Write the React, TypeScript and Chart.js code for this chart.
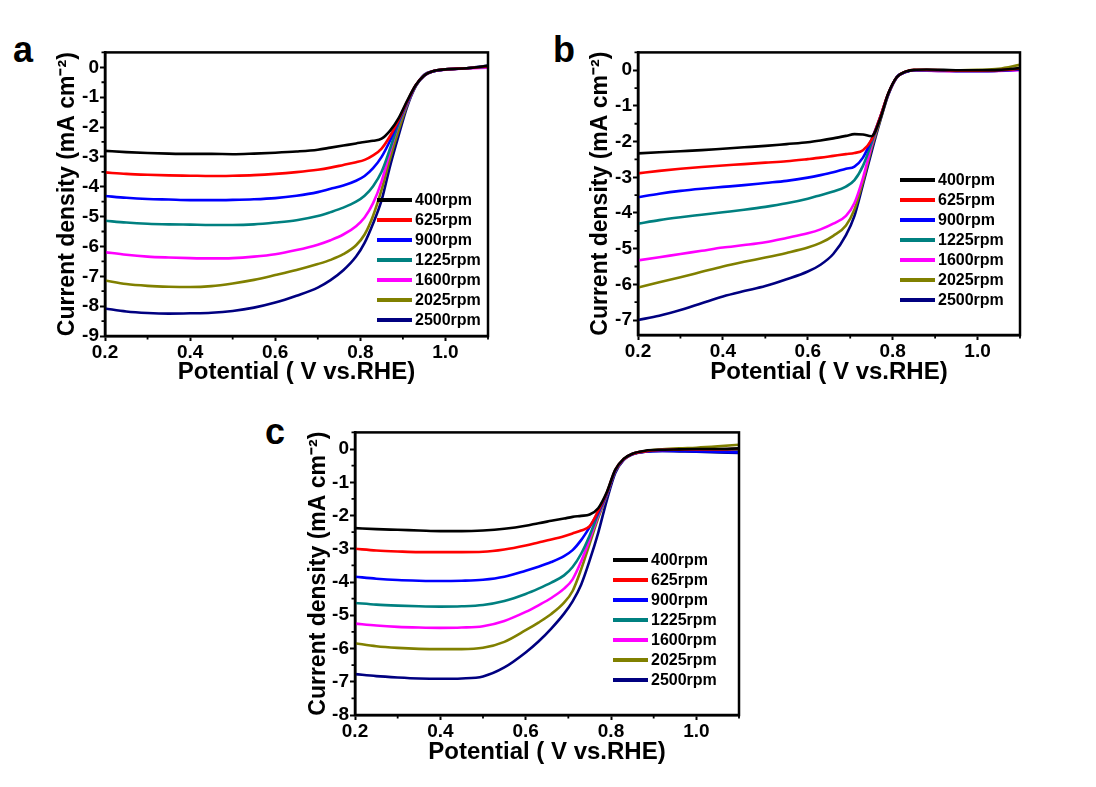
import React, { useEffect, useRef } from 'react';
import { Chart, registerables } from 'chart.js';

Chart.register(...registerables);

const FONT = '"Liberation Sans", Arial, Helvetica, sans-serif';
Chart.defaults.font.family = FONT;

// ---------- series meta ----------
const seriesLabels = ['400rpm', '625rpm', '900rpm', '1225rpm', '1600rpm', '2025rpm', '2500rpm'];
const seriesColors = ['#000000', '#ff0000', '#0000ff', '#008080', '#ff00ff', '#808000', '#000080'];

const xTitle = 'Potential ( V vs.RHE)';
const yTitle = 'Current density (mA cm\u207B\u00B2)';

// ---------- panel a ----------
const potentialA = [0.2, 0.25, 0.3, 0.35, 0.4, 0.45, 0.5, 0.55, 0.6, 0.65, 0.7, 0.73, 0.76, 0.79, 0.81, 0.83, 0.85, 0.87, 0.89, 0.91, 0.93, 0.95, 0.97, 1.0, 1.05, 1.1];
const a400 = [-2.80, -2.84, -2.87, -2.89, -2.90, -2.90, -2.91, -2.89, -2.86, -2.82, -2.76, -2.69, -2.62, -2.55, -2.50, -2.46, -2.39, -2.12, -1.70, -1.12, -0.60, -0.27, -0.13, -0.07, -0.03, 0.05];
const a625 = [-3.52, -3.57, -3.60, -3.62, -3.63, -3.64, -3.63, -3.61, -3.57, -3.51, -3.43, -3.36, -3.27, -3.18, -3.10, -2.95, -2.72, -2.30, -1.76, -1.15, -0.60, -0.27, -0.13, -0.07, -0.03, 0.03];
const a900 = [-4.31, -4.37, -4.41, -4.43, -4.45, -4.45, -4.44, -4.42, -4.38, -4.30, -4.18, -4.07, -3.96, -3.80, -3.64, -3.38, -3.00, -2.45, -1.80, -1.18, -0.61, -0.28, -0.14, -0.07, -0.03, 0.03];
const a1225 = [-5.14, -5.20, -5.24, -5.26, -5.27, -5.28, -5.28, -5.26, -5.20, -5.12, -4.98, -4.85, -4.70, -4.50, -4.30, -3.98, -3.50, -2.72, -1.88, -1.20, -0.62, -0.28, -0.14, -0.07, -0.03, 0.02];
const a1600 = [-6.19, -6.28, -6.34, -6.37, -6.39, -6.40, -6.39, -6.34, -6.26, -6.12, -5.94, -5.79, -5.60, -5.32, -5.03, -4.55, -3.82, -2.82, -1.90, -1.22, -0.62, -0.28, -0.14, -0.08, -0.04, -0.01];
const a2025 = [-7.14, -7.26, -7.32, -7.35, -7.36, -7.33, -7.24, -7.12, -6.96, -6.79, -6.59, -6.45, -6.26, -5.96, -5.60, -4.97, -4.10, -3.05, -2.10, -1.26, -0.63, -0.28, -0.14, -0.07, -0.03, 0.03];
const a2500 = [-8.08, -8.18, -8.23, -8.25, -8.24, -8.22, -8.16, -8.05, -7.88, -7.65, -7.38, -7.13, -6.80, -6.34, -5.88, -5.23, -4.45, -3.30, -2.28, -1.32, -0.64, -0.25, -0.13, -0.07, -0.03, 0.06];

// ---------- panel b ----------
const potentialB = [0.2, 0.25, 0.3, 0.35, 0.4, 0.45, 0.5, 0.55, 0.6, 0.63, 0.66, 0.69, 0.71, 0.73, 0.75, 0.77, 0.79, 0.81, 0.83, 0.85, 0.88, 0.92, 0.96, 1.0, 1.05, 1.1];
const b400 = [-2.33, -2.30, -2.27, -2.24, -2.20, -2.16, -2.12, -2.07, -2.02, -1.97, -1.91, -1.84, -1.79, -1.80, -1.85, -1.38, -0.64, -0.19, -0.04, 0.01, 0.02, 0.01, 0.0, 0.0, 0.01, 0.06];
const b625 = [-2.89, -2.82, -2.76, -2.71, -2.67, -2.63, -2.59, -2.55, -2.49, -2.45, -2.40, -2.35, -2.32, -2.24, -1.95, -1.33, -0.64, -0.19, -0.04, 0.01, 0.01, 0.0, -0.01, -0.01, 0.0, 0.04];
const b900 = [-3.56, -3.46, -3.38, -3.32, -3.27, -3.22, -3.16, -3.10, -3.01, -2.94, -2.86, -2.76, -2.70, -2.45, -1.95, -1.33, -0.65, -0.19, -0.05, 0.0, 0.0, -0.01, -0.02, -0.02, -0.01, 0.02];
const b1225 = [-4.30, -4.20, -4.12, -4.05, -3.98, -3.91, -3.83, -3.73, -3.60, -3.50, -3.40, -3.26, -3.08, -2.68, -2.05, -1.35, -0.66, -0.19, -0.05, 0.0, 0.0, -0.01, -0.02, -0.02, -0.01, 0.03];
const b1600 = [-5.33, -5.24, -5.15, -5.06, -4.97, -4.90, -4.82, -4.70, -4.57, -4.46, -4.30, -4.08, -3.72, -3.02, -2.12, -1.36, -0.66, -0.19, -0.05, 0.0, -0.01, -0.02, -0.03, -0.03, -0.02, 0.0];
const b2025 = [-6.09, -5.94, -5.80, -5.65, -5.50, -5.37, -5.25, -5.12, -4.97, -4.84, -4.64, -4.35, -3.90, -3.12, -2.20, -1.42, -0.67, -0.19, -0.05, 0.0, 0.0, 0.0, 0.0, 0.01, 0.04, 0.15];
const b2500 = [-7.00, -6.88, -6.72, -6.53, -6.34, -6.19, -6.05, -5.86, -5.64, -5.45, -5.15, -4.62, -4.08, -3.20, -2.30, -1.45, -0.68, -0.20, -0.05, 0.0, -0.01, -0.02, -0.02, -0.02, -0.01, 0.02];

// ---------- panel c ----------
const potentialC = [0.2, 0.25, 0.3, 0.35, 0.4, 0.45, 0.5, 0.55, 0.6, 0.63, 0.66, 0.69, 0.71, 0.73, 0.75, 0.77, 0.79, 0.81, 0.83, 0.85, 0.88, 0.92, 0.96, 1.0, 1.05, 1.1];
const c400 = [-2.38, -2.41, -2.43, -2.45, -2.47, -2.47, -2.45, -2.40, -2.31, -2.23, -2.16, -2.09, -2.04, -2.01, -1.97, -1.78, -1.30, -0.62, -0.29, -0.14, -0.05, -0.02, -0.01, 0.0, 0.0, 0.02];
const c625 = [-3.00, -3.05, -3.08, -3.10, -3.10, -3.10, -3.09, -3.02, -2.90, -2.81, -2.72, -2.62, -2.54, -2.45, -2.32, -1.86, -1.32, -0.63, -0.30, -0.15, -0.07, -0.03, -0.02, -0.01, -0.01, 0.0];
const c900 = [-3.84, -3.90, -3.94, -3.96, -3.97, -3.96, -3.93, -3.84, -3.66, -3.54, -3.40, -3.22, -3.04, -2.74, -2.35, -1.90, -1.35, -0.65, -0.31, -0.16, -0.08, -0.06, -0.06, -0.07, -0.08, -0.10];
const c1225 = [-4.63, -4.68, -4.71, -4.73, -4.74, -4.73, -4.69, -4.57, -4.36, -4.20, -4.02, -3.80, -3.55, -3.15, -2.60, -1.95, -1.37, -0.66, -0.31, -0.15, -0.07, -0.04, -0.04, -0.04, -0.05, -0.06];
const c1600 = [-5.25, -5.31, -5.35, -5.37, -5.38, -5.37, -5.33, -5.17, -4.90, -4.70, -4.48, -4.20, -3.92, -3.38, -2.72, -2.00, -1.38, -0.66, -0.31, -0.15, -0.07, -0.03, -0.03, -0.03, -0.03, -0.03];
const c2025 = [-5.84, -5.93, -5.98, -6.01, -6.02, -6.02, -5.98, -5.80, -5.45, -5.22, -4.96, -4.62, -4.27, -3.62, -2.85, -2.08, -1.40, -0.67, -0.31, -0.15, -0.06, -0.01, 0.02, 0.04, 0.08, 0.13];
const c2500 = [-6.77, -6.83, -6.87, -6.90, -6.91, -6.90, -6.84, -6.57, -6.12, -5.79, -5.40, -4.95, -4.58, -4.08, -3.35, -2.52, -1.55, -0.72, -0.33, -0.16, -0.08, -0.06, -0.07, -0.08, -0.10, -0.12];

// ---------- axis ranges ----------
const xMin = 0.2;
const xMax = 1.1;
const xTickStep = 0.1;
const yTickStep = 0.5;
const yRangeA = [-9, 0.5];
const yRangeB = [-7.42, 0.5];
const yRangeC = [-8, 0.5];

type Layout = {
  left: number; top: number; width: number; height: number;
  yAxisW: number; xAxisH: number; padRight: number;
  letterX: number; letterY: number; legendX: number; legendY: number;
};

type PanelSpec = {
  letter: string;
  potential: number[];
  series: number[][];
  yRange: number[];
  layout: Layout;
};

const panels: PanelSpec[] = [
  {
    letter: 'a', potential: potentialA, series: [a400, a625, a900, a1225, a1600, a2025, a2500], yRange: yRangeA,
    layout: { left: 54, top: 40, width: 444, height: 347, yAxisW: 51, xAxisH: 51, padRight: 10, letterX: 13, letterY: 32, legendX: 377, legendY: 190 },
  },
  {
    letter: 'b', potential: potentialB, series: [b400, b625, b900, b1225, b1600, b2025, b2500], yRange: yRangeB,
    layout: { left: 587, top: 40, width: 443, height: 347, yAxisW: 51, xAxisH: 52, padRight: 10, letterX: 553, letterY: 32, legendX: 900, legendY: 170 },
  },
  {
    letter: 'c', potential: potentialC, series: [c400, c625, c900, c1225, c1600, c2025, c2500], yRange: yRangeC,
    layout: { left: 305, top: 420, width: 444, height: 347, yAxisW: 50, xAxisH: 52, padRight: 10, letterX: 265, letterY: 414, legendX: 613, legendY: 550 },
  },
];

const isMajorX = (v: number) => Math.round(v * 10) % 2 === 0;
const isMajorY = (v: number) => Math.abs(v - Math.round(v)) < 1e-6;

function stepTicks(min: number, max: number, step: number) {
  const out: { value: number }[] = [];
  const start = Math.ceil(min / step - 1e-9);
  const end = Math.floor(max / step + 1e-9);
  for (let k = start; k <= end; k++) out.push({ value: Math.round(k * step * 1000) / 1000 });
  return out;
}

const framePlugin = {
  id: 'frameAndMinorTicks',
  afterDraw(chart: any) {
    const { ctx } = chart;
    const { left, top, right, bottom } = chart.chartArea;
    ctx.save();
    ctx.strokeStyle = '#000';
    ctx.lineWidth = 2.5;
    ctx.strokeRect(left, top, right - left, bottom - top);
    ctx.lineWidth = 1.8;
    const xs = chart.scales.x;
    const ys = chart.scales.y;
    ctx.beginPath();
    xs.ticks.forEach((t: any) => {
      if (!isMajorX(t.value)) {
        const px = xs.getPixelForValue(t.value);
        ctx.moveTo(px, bottom);
        ctx.lineTo(px, bottom + 3.5);
      }
    });
    ys.ticks.forEach((t: any) => {
      if (!isMajorY(t.value)) {
        const py = ys.getPixelForValue(t.value);
        ctx.moveTo(left, py);
        ctx.lineTo(left - 3.5, py);
      }
    });
    ctx.stroke();
    ctx.restore();
  },
};

function Panel({ spec }: { spec: PanelSpec }) {
  const ref = useRef<HTMLCanvasElement>(null);
  const L = spec.layout;

  useEffect(() => {
    const canvas = ref.current;
    if (!canvas) return;
    const chart = new Chart(canvas, {
      type: 'line',
      data: {
        datasets: spec.series.map((ys, i) => ({
          label: seriesLabels[i],
          data: spec.potential.map((x, j) => ({ x, y: ys[j] })),
          borderColor: seriesColors[i],
          backgroundColor: seriesColors[i],
          borderWidth: 2.6,
          pointRadius: 0,
          fill: false,
          cubicInterpolationMode: 'monotone',
        })),
      },
      options: {
        animation: false,
        responsive: false,
        events: [],
        layout: { padding: { top: 10, right: L.padRight, left: 0, bottom: 0 } },
        plugins: { legend: { display: false }, tooltip: { enabled: false }, title: { display: false } },
        scales: {
          x: {
            type: 'linear',
            min: xMin,
            max: xMax,
            bounds: 'data',
            afterBuildTicks: (s: any) => { s.ticks = stepTicks(xMin, xMax, xTickStep); },
            afterFit: (s: any) => { s.height = L.xAxisH; },
            ticks: {
              autoSkip: false,
              maxRotation: 0,
              padding: 0,
              color: '#000',
              font: { family: FONT, size: 19, weight: 'bold' },
              callback: (v: any) => {
                const t = Math.round(Number(v) * 10);
                return t % 2 === 0 && t <= 10 ? (t / 10).toFixed(1) : '';
              },
            },
            grid: {
              drawOnChartArea: false,
              drawTicks: true,
              tickLength: 5,
              tickWidth: 2,
              tickColor: (c: any) => (c.tick && isMajorX(c.tick.value) ? '#000' : 'rgba(0,0,0,0)'),
            },
            border: { display: true, color: '#000', width: 2.5 },
            title: { display: true, text: xTitle, color: '#000', padding: 0, font: { family: FONT, size: 24, weight: 'bold' } },
          },
          y: {
            type: 'linear',
            min: spec.yRange[0],
            max: spec.yRange[1],
            bounds: 'data',
            afterBuildTicks: (s: any) => { s.ticks = stepTicks(spec.yRange[0], spec.yRange[1], yTickStep); },
            afterFit: (s: any) => { s.width = L.yAxisW; },
            ticks: {
              autoSkip: false,
              padding: 1,
              color: '#000',
              font: { family: FONT, size: 19, weight: 'bold' },
              callback: (v: any) => (isMajorY(Number(v)) ? String(Math.round(Number(v))) : ''),
            },
            grid: {
              drawOnChartArea: false,
              drawTicks: true,
              tickLength: 5,
              tickWidth: 2,
              tickColor: (c: any) => (c.tick && isMajorY(c.tick.value) ? '#000' : 'rgba(0,0,0,0)'),
            },
            border: { display: true, color: '#000', width: 2.5 },
            title: { display: true, text: yTitle, color: '#000', padding: 0, font: { family: FONT, size: 23, weight: 'bold' } },
          },
        },
      } as any,
      plugins: [framePlugin],
    });
    return () => chart.destroy();
  }, [spec]);

  return (
    <>
      <canvas
        ref={ref}
        width={L.width}
        height={L.height}
        style={{ position: 'absolute', left: L.left, top: L.top, width: L.width, height: L.height }}
      />
      <div
        style={{
          position: 'absolute', left: L.letterX, top: L.letterY, fontFamily: FONT, fontWeight: 'bold',
          fontSize: 36, lineHeight: '36px', color: '#000',
        }}
      >
        {spec.letter}
      </div>
      <div
        style={{
          position: 'absolute', left: L.legendX, top: L.legendY, fontFamily: FONT, fontWeight: 'bold',
          fontSize: 16, color: '#000',
        }}
      >
        {seriesLabels.map((lab, i) => (
          <div key={lab} style={{ display: 'flex', alignItems: 'center', height: 20, whiteSpace: 'nowrap' }}>
            <span style={{ display: 'inline-block', width: 35, height: 3.5, background: seriesColors[i], marginRight: 3 }} />
            <span style={{ lineHeight: '20px' }}>{lab}</span>
          </div>
        ))}
      </div>
    </>
  );
}

export default function App() {
  return (
    <div style={{ position: 'fixed', left: 0, top: 0, width: 1096, height: 787, background: '#fff', overflow: 'hidden' }}>
      {panels.map((p) => (
        <Panel key={p.letter} spec={p} />
      ))}
    </div>
  );
}
